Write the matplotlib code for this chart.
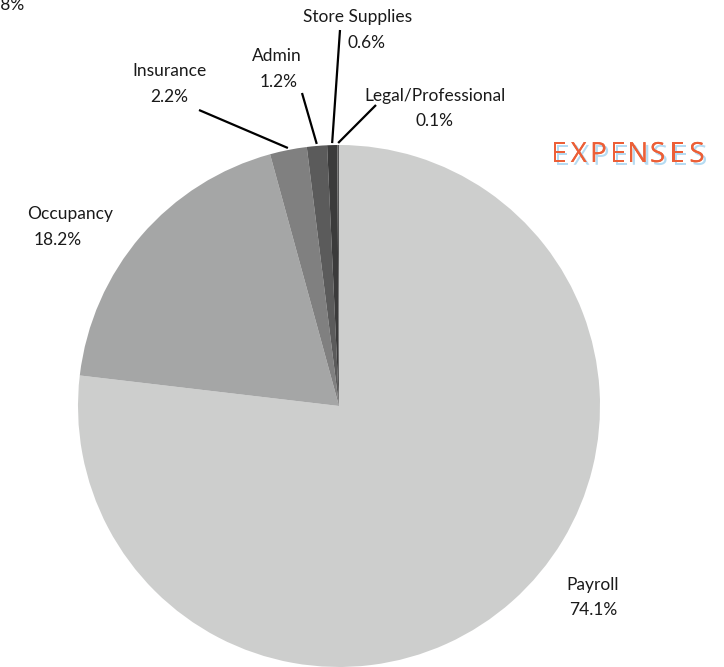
import numpy as np
import matplotlib.pyplot as plt
import matplotlib.patheffects as pe

labels = ['Payroll', 'Occupancy', 'Insurance', 'Admin', 'Store Supplies', 'Legal/Professional']
values = [74.1, 18.2, 2.2, 1.2, 0.6, 0.1]
colors = ['#cdcecd', '#a5a6a6', '#808080', '#5b5b5b', '#3b3b3b', '#595959']

W, H = 724, 667
fig = plt.figure(figsize=(7.24, 6.67), dpi=100)
ax = fig.add_axes([0, 0, 1, 1])

cx, cy, r = 339, H - 406, 261
wedges, _ = ax.pie(values, colors=colors, startangle=90, counterclock=False,
                   center=(cx, cy), radius=r, frame=True,
                   wedgeprops=dict(linewidth=0))
ax.set_xlim(0, W)
ax.set_ylim(0, H)
ax.set_aspect('equal')
ax.axis('off')

font = 'Lato'
# name / value text positions (pixels, top-down) and leader line ends
name_pos = {
    'Payroll': (593, 585),
    'Occupancy': (70, 214),
    'Insurance': (170, 71),
    'Admin': (277, 56),
    'Store Supplies': (358, 17),
    'Legal/Professional': (435, 96),
}
value_pos = {
    'Payroll': (593, 610),
    'Occupancy': (58, 240),
    'Insurance': (169, 97),
    'Admin': (279, 82),
    'Store Supplies': (366, 43),
    'Legal/Professional': (435, 121),
}
leaders = {
    'Insurance': (199, 110),
    'Admin': (302, 93),
    'Store Supplies': (340, 30),
    'Legal/Professional': (376, 105),
}
txt = dict(ha='center', va='center', fontsize=12.5, family=font, color='#1a1a1a')
for w, lab, v in zip(wedges, labels, values):
    nx, ny = name_pos[lab]
    vx, vy = value_pos[lab]
    ax.text(nx, H - ny, lab, **txt)
    ax.text(vx, H - vy, f'{v}%', **txt)
    if lab in leaders:
        ang = np.deg2rad((w.theta1 + w.theta2) / 2)
        ex, ey = cx + (r + 2) * np.cos(ang), cy + (r + 2) * np.sin(ang)
        lx, ly = leaders[lab]
        ax.plot([lx, ex], [H - ly, ey], color='black', lw=1.6, solid_capstyle='butt')

# cut-off label at the top-left corner
ax.text(-14, H - 5, '3.8%', ha='left', va='center', fontsize=12.5, family=font, color='#1a1a1a')

# title with letter spacing and a soft blue shadow
title = 'EXPENSES'
x0, step = 559, 19.7
for i, ch in enumerate(title):
    ax.text(x0 + i * step, H - 155, ch, ha='center', va='center', fontsize=20,
            family='Open Sans', color='#ec5f37',
            path_effects=[pe.withSimplePatchShadow(offset=(2, -2), shadow_rgbFace='#b5dbf2', alpha=1.0),
                          pe.Normal()])

fig.savefig('out.png', dpi=100)
